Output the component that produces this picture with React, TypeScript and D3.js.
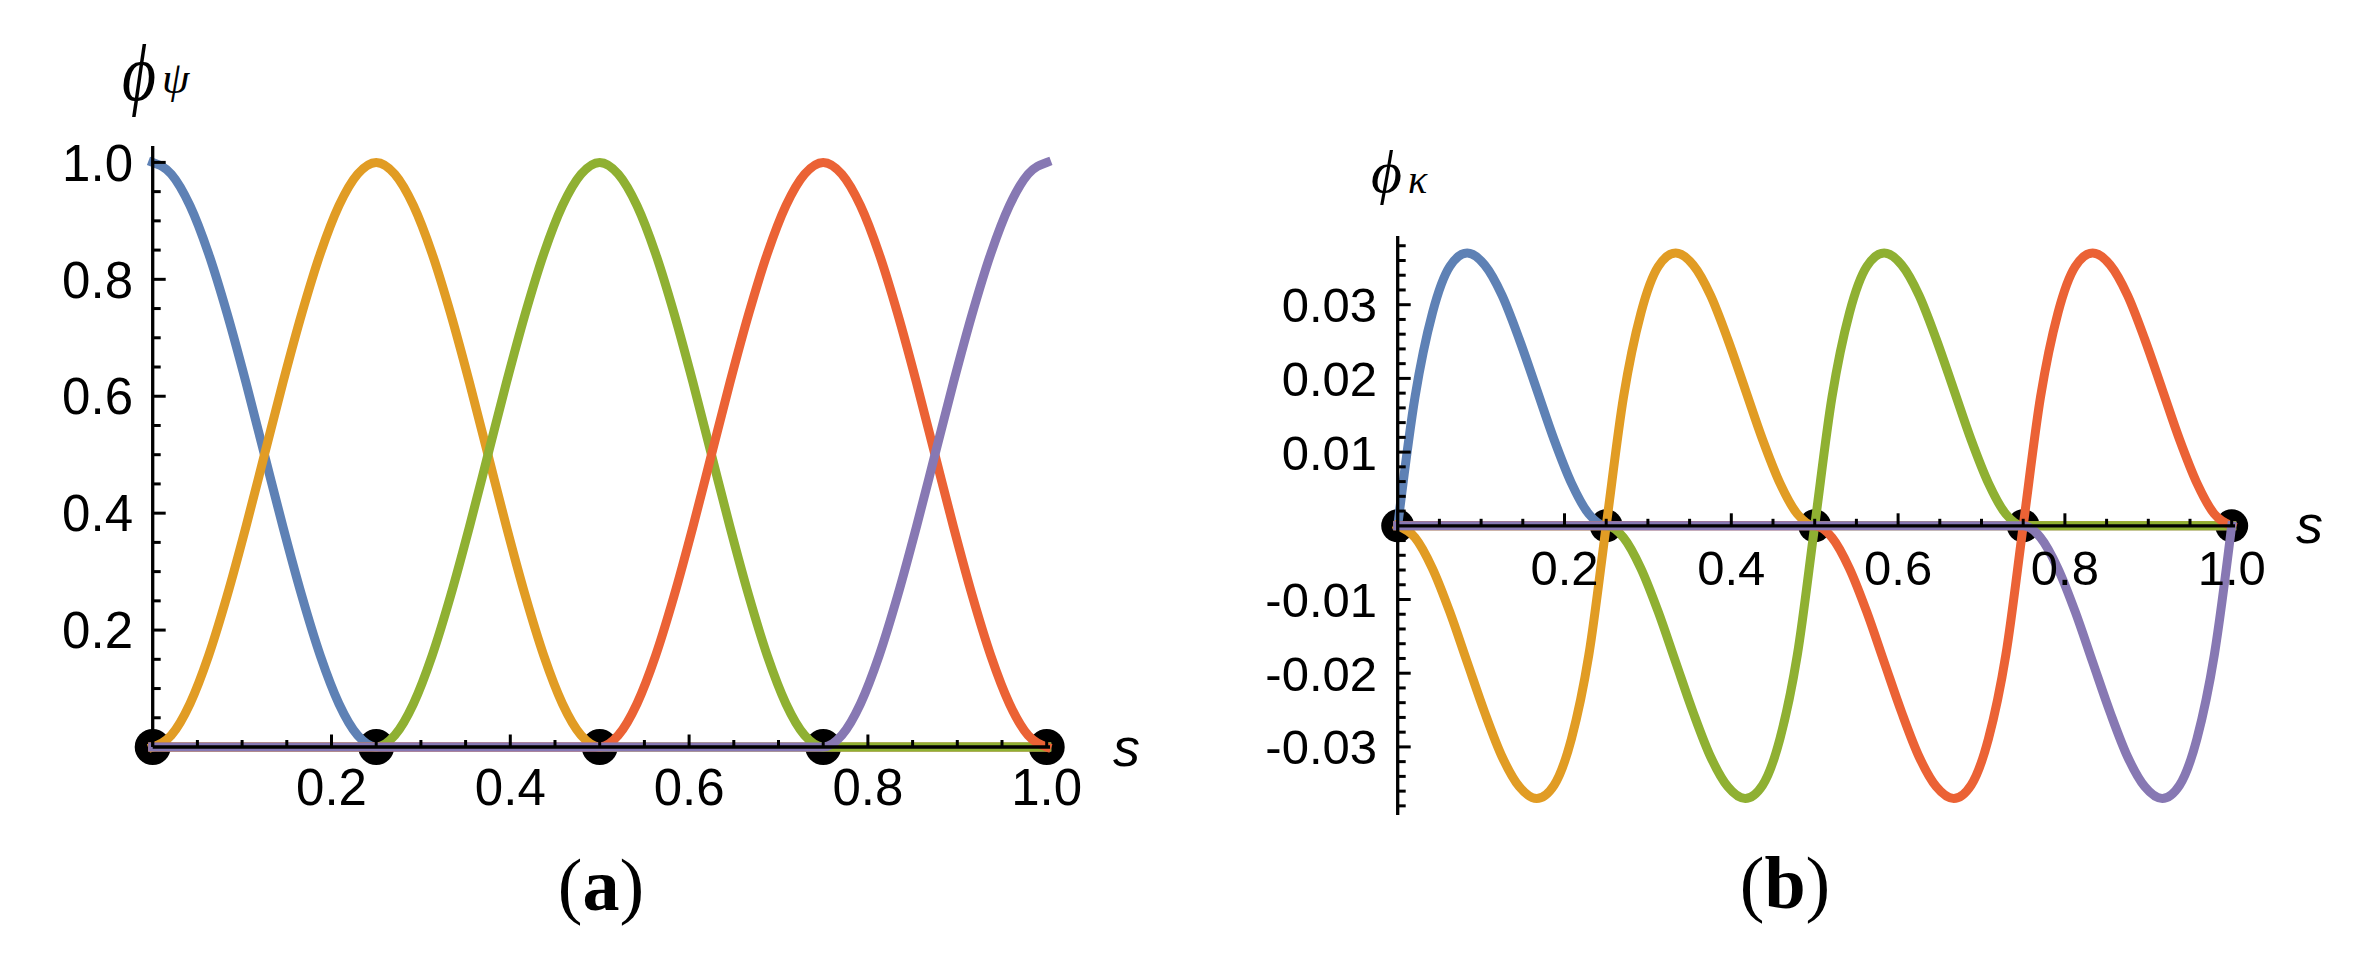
import React from "react";
import * as d3 from "d3";

const W = 2379;
const H = 956;

// sample positions along s (step 1/48)
const sGrid = [
  0, 0.0208, 0.0417, 0.0625, 0.0833, 0.1042, 0.125, 0.1458, 0.1667, 0.1875, 0.2083, 0.2292,
  0.25, 0.2708, 0.2917, 0.3125, 0.3333, 0.3542, 0.375, 0.3958, 0.4167, 0.4375, 0.4583, 0.4792,
  0.5, 0.5208, 0.5417, 0.5625, 0.5833, 0.6042, 0.625, 0.6458, 0.6667, 0.6875, 0.7083, 0.7292,
  0.75, 0.7708, 0.7917, 0.8125, 0.8333, 0.8542, 0.875, 0.8958, 0.9167, 0.9375, 0.9583, 0.9792,
  1,
];

// panel (a): phi_psi values
const psiBlue = [
  1, 0.98, 0.926, 0.844, 0.741, 0.624, 0.5, 0.376, 0.259, 0.156, 0.074, 0.02,
  0, 0, 0, 0, 0, 0, 0, 0, 0, 0, 0, 0,
  0, 0, 0, 0, 0, 0, 0, 0, 0, 0, 0, 0,
  0, 0, 0, 0, 0, 0, 0, 0, 0, 0, 0, 0,
  0,
];
const psiOrange = [
  0, 0.02, 0.074, 0.156, 0.259, 0.376, 0.5, 0.624, 0.741, 0.844, 0.926, 0.98,
  1, 0.98, 0.926, 0.844, 0.741, 0.624, 0.5, 0.376, 0.259, 0.156, 0.074, 0.02,
  0, 0, 0, 0, 0, 0, 0, 0, 0, 0, 0, 0,
  0, 0, 0, 0, 0, 0, 0, 0, 0, 0, 0, 0,
  0,
];
const psiGreen = [
  0, 0, 0, 0, 0, 0, 0, 0, 0, 0, 0, 0,
  0, 0.02, 0.074, 0.156, 0.259, 0.376, 0.5, 0.624, 0.741, 0.844, 0.926, 0.98,
  1, 0.98, 0.926, 0.844, 0.741, 0.624, 0.5, 0.376, 0.259, 0.156, 0.074, 0.02,
  0, 0, 0, 0, 0, 0, 0, 0, 0, 0, 0, 0,
  0,
];
const psiRed = [
  0, 0, 0, 0, 0, 0, 0, 0, 0, 0, 0, 0,
  0, 0, 0, 0, 0, 0, 0, 0, 0, 0, 0, 0,
  0, 0.02, 0.074, 0.156, 0.259, 0.376, 0.5, 0.624, 0.741, 0.844, 0.926, 0.98,
  1, 0.98, 0.926, 0.844, 0.741, 0.624, 0.5, 0.376, 0.259, 0.156, 0.074, 0.02,
  0,
];
const psiPurple = [
  0, 0, 0, 0, 0, 0, 0, 0, 0, 0, 0, 0,
  0, 0, 0, 0, 0, 0, 0, 0, 0, 0, 0, 0,
  0, 0, 0, 0, 0, 0, 0, 0, 0, 0, 0, 0,
  0, 0.02, 0.074, 0.156, 0.259, 0.376, 0.5, 0.624, 0.741, 0.844, 0.926, 0.98,
  1,
];

// panel (b): phi_kappa values
const kapBlue = [
  0, 0.0175, 0.0289, 0.0352, 0.037, 0.0354, 0.0313, 0.0253, 0.0185, 0.0117, 0.0058, 0.0016,
  0, 0, 0, 0, 0, 0, 0, 0, 0, 0, 0, 0,
  0, 0, 0, 0, 0, 0, 0, 0, 0, 0, 0, 0,
  0, 0, 0, 0, 0, 0, 0, 0, 0, 0, 0, 0,
  0,
];
const kapOrange = [
  0, -0.0016, -0.0058, -0.0117, -0.0185, -0.0253, -0.0313, -0.0354, -0.037, -0.0352, -0.0289, -0.0175,
  0, 0.0175, 0.0289, 0.0352, 0.037, 0.0354, 0.0313, 0.0253, 0.0185, 0.0117, 0.0058, 0.0016,
  0, 0, 0, 0, 0, 0, 0, 0, 0, 0, 0, 0,
  0, 0, 0, 0, 0, 0, 0, 0, 0, 0, 0, 0,
  0,
];
const kapGreen = [
  0, 0, 0, 0, 0, 0, 0, 0, 0, 0, 0, 0,
  0, -0.0016, -0.0058, -0.0117, -0.0185, -0.0253, -0.0313, -0.0354, -0.037, -0.0352, -0.0289, -0.0175,
  0, 0.0175, 0.0289, 0.0352, 0.037, 0.0354, 0.0313, 0.0253, 0.0185, 0.0117, 0.0058, 0.0016,
  0, 0, 0, 0, 0, 0, 0, 0, 0, 0, 0, 0,
  0,
];
const kapRed = [
  0, 0, 0, 0, 0, 0, 0, 0, 0, 0, 0, 0,
  0, 0, 0, 0, 0, 0, 0, 0, 0, 0, 0, 0,
  0, -0.0016, -0.0058, -0.0117, -0.0185, -0.0253, -0.0313, -0.0354, -0.037, -0.0352, -0.0289, -0.0175,
  0, 0.0175, 0.0289, 0.0352, 0.037, 0.0354, 0.0313, 0.0253, 0.0185, 0.0117, 0.0058, 0.0016,
  0,
];
const kapPurple = [
  0, 0, 0, 0, 0, 0, 0, 0, 0, 0, 0, 0,
  0, 0, 0, 0, 0, 0, 0, 0, 0, 0, 0, 0,
  0, 0, 0, 0, 0, 0, 0, 0, 0, 0, 0, 0,
  0, -0.0016, -0.0058, -0.0117, -0.0185, -0.0253, -0.0313, -0.0354, -0.037, -0.0352, -0.0289, -0.0175,
  0,
];

const seriesColors = ["#5E81B5", "#E19C24", "#8FB032", "#EB6235", "#8778B3"];
const nodes = [0, 0.25, 0.5, 0.75, 1];

const xTicks = [0.2, 0.4, 0.6, 0.8, 1.0];
const xTickLabels = ["0.2", "0.4", "0.6", "0.8", "1.0"];
const xMinorTicks = [0.05, 0.1, 0.15, 0.25, 0.3, 0.35, 0.45, 0.5, 0.55, 0.65, 0.7, 0.75, 0.85, 0.9, 0.95];

const psiYTicks = [0.2, 0.4, 0.6, 0.8, 1.0];
const psiYTickLabels = ["0.2", "0.4", "0.6", "0.8", "1.0"];
const psiYMinor = [0.05, 0.1, 0.15, 0.25, 0.3, 0.35, 0.45, 0.5, 0.55, 0.65, 0.7, 0.75, 0.85, 0.9, 0.95];

const kapYTicks = [-0.03, -0.02, -0.01, 0.01, 0.02, 0.03];
const kapYTickLabels = ["-0.03", "-0.02", "-0.01", "0.01", "0.02", "0.03"];
const kapYMinor = d3
  .range(-19, 20)
  .map((k) => k * 0.002)
  .filter((v) => Math.abs(v) > 1e-9 && Math.abs(Math.round(v * 100) - v * 100) > 1e-6);

const SANS = "'Liberation Sans', Arial, Helvetica, sans-serif";
const SERIF = "'Liberation Serif', 'Times New Roman', 'DejaVu Serif', serif";

type TitleSpec = {
  x: number;
  y: number;
  size: number;
  width: number;
  sub: string;
  subX: number;
  subY: number;
  subSize: number;
};

type PanelProps = {
  series: number[][];
  xRange: [number, number];
  yDomain: [number, number];
  yRange: [number, number];
  yAxisTop: number;
  yAxisBottom: number;
  xAxisEnd: number;
  yTicks: number[];
  yTickLabels: string[];
  yMinor: number[];
  fontSize: number;
  xLabelBaseline: number;
  yLabelRight: number;
  dotR: number;
  sLabel: { x: number; y: number };
  title: TitleSpec;
  caption: { x: number; y: number; text: string };
};

function Panel(p: PanelProps) {
  const x = d3.scaleLinear().domain([0, 1]).range(p.xRange);
  const y = d3.scaleLinear().domain(p.yDomain).range(p.yRange);
  const y0 = y(0);
  const x0 = x(0);
  const line = d3
    .line<number>()
    .x((_, i) => x(sGrid[i]))
    .y((d) => y(d))
    .curve(d3.curveMonotoneX);
  const cap = p.fontSize * 0.716;
  return (
    <g>
      {nodes.map((n) => (
        <circle key={"n" + n} cx={x(n)} cy={y0} r={p.dotR} fill="#000" />
      ))}
      {p.series.map((vals, i) => (
        <path
          key={"s" + i}
          d={line(vals) || ""}
          fill="none"
          stroke={seriesColors[i]}
          strokeWidth={9}
          strokeLinecap="square"
          strokeLinejoin="round"
        />
      ))}
      <line x1={x0} x2={p.xAxisEnd} y1={y0} y2={y0} stroke="#000" strokeWidth={3.3} />
      <line x1={x0} x2={x0} y1={p.yAxisTop} y2={p.yAxisBottom} stroke="#000" strokeWidth={3.3} />
      {xTicks.map((t) => (
        <line key={"xt" + t} x1={x(t)} x2={x(t)} y1={y0} y2={y0 - 12.5} stroke="#000" strokeWidth={3} />
      ))}
      {xMinorTicks.map((t) => (
        <line key={"xm" + t} x1={x(t)} x2={x(t)} y1={y0} y2={y0 - 7} stroke="#000" strokeWidth={3} />
      ))}
      {p.yTicks.map((t) => (
        <line key={"yt" + t} x1={x0} x2={x0 + 13} y1={y(t)} y2={y(t)} stroke="#000" strokeWidth={3} />
      ))}
      {p.yMinor.map((t) => (
        <line key={"ym" + t} x1={x0} x2={x0 + 8} y1={y(t)} y2={y(t)} stroke="#000" strokeWidth={3} />
      ))}
      {xTicks.map((t, i) => (
        <text
          key={"xl" + t}
          x={x(t)}
          y={p.xLabelBaseline}
          textAnchor="middle"
          fontFamily={SANS}
          fontSize={p.fontSize}
        >
          {xTickLabels[i]}
        </text>
      ))}
      {p.yTicks.map((t, i) => (
        <text
          key={"yl" + t}
          x={p.yLabelRight}
          y={y(t) + cap / 2}
          textAnchor="end"
          fontFamily={SANS}
          fontSize={p.fontSize}
        >
          {p.yTickLabels[i]}
        </text>
      ))}
      <text x={p.sLabel.x} y={p.sLabel.y} fontFamily={SANS} fontStyle="italic" fontSize={54}>
        s
      </text>
      <text
        x={p.title.x}
        y={p.title.y}
        fontFamily={SERIF}
        fontStyle="italic"
        fontSize={p.title.size}
        textLength={p.title.width}
        lengthAdjust="spacingAndGlyphs"
      >
        {"\u03D5"}
      </text>
      <text x={p.title.subX} y={p.title.subY} fontFamily={SERIF} fontStyle="italic" fontSize={p.title.subSize}>
        {p.title.sub}
      </text>
      <text x={p.caption.x} y={p.caption.y} textAnchor="middle" fontFamily={SERIF} fontSize={74}>
        <tspan>(</tspan>
        <tspan fontWeight="bold">{p.caption.text}</tspan>
        <tspan>)</tspan>
      </text>
    </g>
  );
}

export default function App() {
  return (
    <svg
      width={W}
      height={H}
      viewBox={`0 0 ${W} ${H}`}
      style={{ position: "absolute", left: 0, top: 0, background: "#fff" }}
    >
      <rect x={0} y={0} width={W} height={H} fill="#fff" />
      <Panel
        series={[psiBlue, psiOrange, psiGreen, psiRed, psiPurple]}
        xRange={[152.7, 1046.7]}
        yDomain={[0, 1]}
        yRange={[747, 162.4]}
        yAxisTop={146}
        yAxisBottom={747}
        xAxisEnd={1050}
        yTicks={psiYTicks}
        yTickLabels={psiYTickLabels}
        yMinor={psiYMinor}
        fontSize={51}
        xLabelBaseline={805}
        yLabelRight={133}
        dotR={18}
        sLabel={{ x: 1113, y: 766 }}
        title={{ x: 122, y: 100, size: 80, width: 34, sub: "\u03C8", subX: 162, subY: 93, subSize: 44 }}
        caption={{ x: 601, y: 910, text: "a" }}
      />
      <Panel
        series={[kapBlue, kapOrange, kapGreen, kapRed, kapPurple]}
        xRange={[1397.7, 2231.7]}
        yDomain={[0, 0.03]}
        yRange={[525.8, 304.7]}
        yAxisTop={236}
        yAxisBottom={815}
        xAxisEnd={2235}
        yTicks={kapYTicks}
        yTickLabels={kapYTickLabels}
        yMinor={kapYMinor}
        fontSize={49}
        xLabelBaseline={585}
        yLabelRight={1377}
        dotR={16.5}
        sLabel={{ x: 2296, y: 543 }}
        title={{ x: 1371, y: 192, size: 60, width: 31, sub: "\u03BA", subX: 1408, subY: 193, subSize: 40 }}
        caption={{ x: 1785, y: 908, text: "b" }}
      />
    </svg>
  );
}
